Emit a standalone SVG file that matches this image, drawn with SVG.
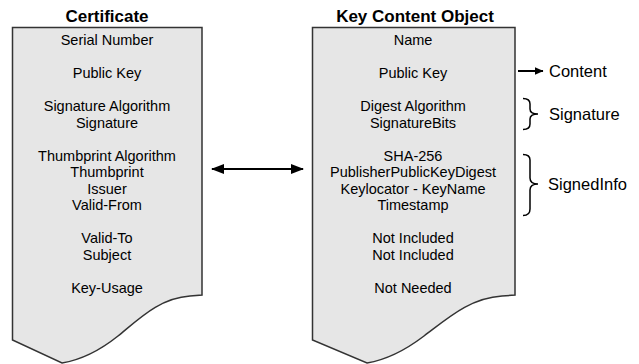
<svg xmlns="http://www.w3.org/2000/svg" width="639" height="364" viewBox="0 0 639 364">
<defs>
<style>
.doc{fill:#e6e6e6;stroke:#333;stroke-width:1.5;stroke-linejoin:miter}
.t{font-family:"Liberation Sans",Arial,sans-serif;font-size:14.5px;fill:#000;text-anchor:middle}
.h{font-family:"Liberation Sans",Arial,sans-serif;font-size:17px;font-weight:bold;fill:#000;text-anchor:middle}
.a{font-family:"Liberation Sans",Arial,sans-serif;font-size:16.5px;fill:#000}
.ln{fill:none;stroke:#000;stroke-width:2}
.br{fill:none;stroke:#000;stroke-width:1.5}
</style>
<marker id="ah" viewBox="0 0 13 10" refX="12" refY="5" markerWidth="13" markerHeight="10" orient="auto-start-reverse" markerUnits="userSpaceOnUse">
<path d="M0,0 L13,5 L0,10 Z" fill="#000"/>
</marker>
<marker id="ah2" viewBox="0 0 9 8" refX="8.5" refY="4" markerWidth="9" markerHeight="8" orient="auto" markerUnits="userSpaceOnUse">
<path d="M0,0 L9,4 L0,8 Z" fill="#000"/>
</marker>
</defs>
<g id="certificate">
<text class="h" x="107" y="21.5">Certificate</text>
<path class="doc" d="M12.5,27.5 H202 V295 L190,296 C160,298 140,318 118,336 C98,352 80,360 62,363 L12.5,340 Z"/>
<text class="t" x="107" y="45">Serial Number</text>
<text class="t" x="107" y="78">Public Key</text>
<text class="t" x="107" y="111">Signature Algorithm</text>
<text class="t" x="107" y="127.5">Signature</text>
<text class="t" x="107" y="160.5">Thumbprint Algorithm</text>
<text class="t" x="107" y="177">Thumbprint</text>
<text class="t" x="107" y="193.5">Issuer</text>
<text class="t" x="107" y="210">Valid-From</text>
<text class="t" x="107" y="243">Valid-To</text>
<text class="t" x="107" y="259.5">Subject</text>
<text class="t" x="107" y="292.5">Key-Usage</text>
</g>
<g id="key-content-object">
<text class="h" x="415" y="21.5">Key Content Object</text>
<path class="doc" d="M312.5,27.5 H515 V295 L502,296 C470,298 448,318 424,336 C403,352 385,360 367,363 L312.5,340 Z"/>
<text class="t" x="413" y="45">Name</text>
<text class="t" x="413" y="78">Public Key</text>
<text class="t" x="413" y="111">Digest Algorithm</text>
<text class="t" x="413" y="127.5">SignatureBits</text>
<text class="t" x="413" y="160.5">SHA-256</text>
<text class="t" x="413" y="177">PublisherPublicKeyDigest</text>
<text class="t" x="413" y="193.5">Keylocator - KeyName</text>
<text class="t" x="413" y="210">Timestamp</text>
<text class="t" x="413" y="243">Not Included</text>
<text class="t" x="413" y="259.5">Not Included</text>
<text class="t" x="413" y="292.5">Not Needed</text>
</g>
<g id="content-label">
<text class="a" x="549" y="77">Content</text>
</g>
<g id="signature-label">
<text class="a" x="549" y="120">Signature</text>
</g>
<g id="signedinfo-label">
<text class="a" x="548" y="190">SignedInfo</text>
</g>
<g id="connectors">
<line class="ln" x1="212" y1="169" x2="303" y2="169" marker-start="url(#ah)" marker-end="url(#ah)"/>
<line class="ln" x1="518" y1="71" x2="543" y2="71" marker-end="url(#ah2)"/>
<path class="br" d="M523,98.5 Q530,98.5 530,104 V109 Q530,114 538,114 Q530,114 530,119 V124 Q530,129.5 523,129.5"/>
<path class="br" d="M523,154.5 Q530,154.5 530,160 V178 Q530,184 538,184 Q530,184 530,190 V209 Q530,215.5 523,215.5"/>
</g>
</svg>
